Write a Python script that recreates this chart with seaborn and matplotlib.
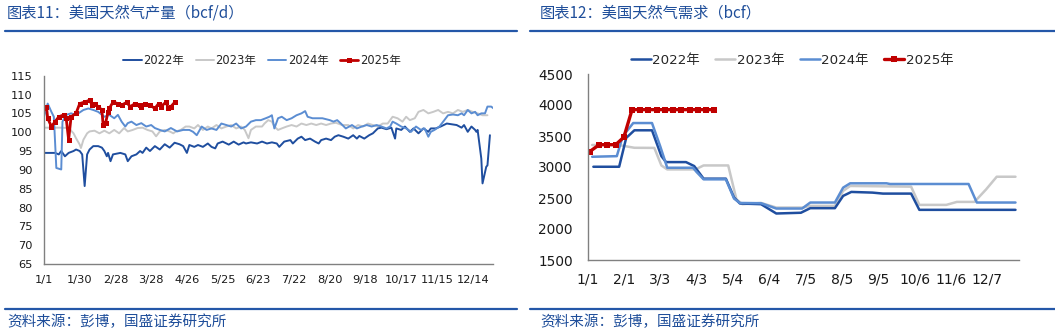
import matplotlib
matplotlib.use("Agg")
import matplotlib.pyplot as plt
import seaborn as sns
import pandas as pd
from matplotlib.lines import Line2D

sns.set_theme(style="white")
plt.rcParams['font.family'] = ['DejaVu Sans', 'Noto Sans CJK SC']
plt.rcParams['axes.unicode_minus'] = False

# ---------------- Left chart: US natural gas production (bcf/d) ----------------
prod_2022_day = [0, 9, 12, 14, 17, 20, 24, 26, 29, 31, 33, 35, 37, 40, 44, 47, 49, 51, 52, 54, 56, 62, 66, 68,
                 71, 75, 78, 80, 83, 86, 90, 94, 98, 102, 106, 110, 113, 116, 118, 122, 125, 129, 133, 136, 139,
                 141, 145, 150, 154, 158, 162, 164, 168, 173, 177, 181, 185, 189, 191, 195, 200, 202, 206, 209,
                 212, 216, 220, 223, 225, 229, 233, 236, 239, 243, 247, 251, 254, 256, 260, 264, 267, 271, 274,
                 278, 282, 285, 286, 290, 293, 297, 300, 304, 308, 312, 314, 318, 322, 327, 331, 335, 339, 341,
                 344, 347, 350, 351, 352, 355, 356, 359, 360, 362]
prod_2022_val = [94.5, 94.5, 94.1, 95.0, 93.6, 94.5, 95.0, 95.4, 95.0, 94.1, 85.7, 94.1, 95.4, 96.3, 96.3, 95.9,
                 95.0, 93.6, 94.5, 92.3, 94.1, 94.5, 94.1, 92.3, 93.6, 94.1, 95.0, 94.5, 95.9, 95.0, 96.3, 95.4,
                 96.8, 95.9, 97.2, 96.8, 96.3, 94.5, 96.6, 96.1, 96.6, 96.1, 97.0, 96.1, 95.7, 97.0, 97.5, 96.7,
                 97.5, 96.7, 97.3, 97.0, 97.3, 97.0, 97.5, 97.0, 97.3, 97.0, 96.1, 97.5, 97.9, 97.0, 98.3, 98.8,
                 97.9, 98.3, 97.5, 97.0, 97.9, 98.3, 97.9, 98.8, 99.2, 98.8, 98.3, 99.2, 98.3, 99.0, 98.3, 99.2,
                 99.7, 101.0, 101.2, 100.8, 101.2, 98.3, 101.0, 100.6, 101.5, 100.1, 101.0, 99.7, 101.0, 100.1,
                 101.0, 101.0, 101.5, 102.3, 102.1, 101.9, 101.2, 101.9, 100.1, 101.5, 100.6, 100.1, 100.6, 93.0,
                 86.4, 90.8, 91.2, 99.2]

prod_2023_day = [0, 13, 20, 24, 26, 29, 30, 32, 35, 37, 41, 45, 49, 53, 57, 61, 65, 68, 72, 76, 80, 84, 88, 91,
                 94, 98, 102, 105, 107, 111, 115, 118, 122, 125, 129, 133, 136, 140, 144, 148, 152, 156, 160,
                 163, 166, 168, 172, 177, 179, 182, 185, 187, 190, 193, 197, 201, 205, 209, 213, 217, 221, 225,
                 229, 233, 237, 242, 247, 251, 255, 259, 263, 267, 271, 275, 279, 283, 287, 291, 294, 297, 301,
                 304, 308, 312, 316, 320, 324, 328, 332, 336, 340, 344, 348, 352, 356, 360]
prod_2023_val = [101.2, 101.2, 101.1, 99.7, 98.4, 96.7, 95.8, 98.0, 99.7, 100.2, 100.4, 99.7, 100.4, 99.7,
                 100.6, 99.7, 101.1, 100.2, 100.6, 101.1, 101.2, 100.6, 100.2, 98.9, 100.2, 100.6, 100.2, 99.7,
                 100.2, 100.6, 101.5, 101.5, 101.0, 101.9, 100.6, 101.5, 101.0, 101.9, 101.0, 101.5, 101.9, 101.0,
                 101.5, 100.6, 98.4, 100.6, 101.5, 101.5, 102.3, 103.2, 102.8, 101.5, 100.6, 101.0, 101.5, 101.9,
                 101.5, 102.3, 101.9, 102.3, 101.9, 102.3, 101.9, 102.3, 102.5, 101.9, 101.9, 101.0, 101.9, 101.5,
                 102.3, 101.9, 101.5, 102.3, 102.3, 104.1, 103.7, 102.8, 104.1, 103.2, 103.7, 105.4, 105.9, 105.0,
                 105.4, 105.9, 105.0, 105.4, 105.0, 105.9, 105.4, 105.9, 105.4, 105.0, 104.5, 104.5]

prod_2024_day = [0, 3, 6, 8, 10, 12, 14, 15, 18, 22, 26, 32, 36, 40, 44, 49, 53, 57, 60, 63, 66, 68, 71, 75, 79,
                 83, 87, 90, 94, 98, 103, 108, 113, 118, 121, 124, 128, 132, 136, 140, 144, 148, 152, 156, 160,
                 164, 168, 172, 176, 180, 183, 185, 187, 190, 193, 197, 201, 205, 209, 212, 214, 218, 222, 226,
                 232, 235, 238, 241, 245, 250, 254, 258, 262, 266, 270, 274, 278, 281, 283, 286, 290, 294, 298,
                 302, 306, 309, 312, 314, 317, 321, 325, 328, 332, 336, 339, 341, 344, 347, 350, 352, 355, 358,
                 360, 363, 365]
prod_2024_val = [104.1, 107.6, 105.4, 104.1, 90.5, 90.3, 90.1, 102.8, 104.6, 105.0, 104.6, 105.9, 106.3, 105.9,
                 105.4, 104.1, 104.6, 103.7, 104.6, 102.8, 101.5, 102.4, 102.8, 101.9, 102.4, 101.5, 101.9, 101.1,
                 100.6, 100.2, 101.1, 100.2, 100.6, 100.6, 100.1, 99.2, 101.5, 100.6, 101.0, 100.6, 102.3, 101.9,
                 101.5, 102.3, 101.0, 101.5, 102.8, 103.2, 103.2, 103.7, 104.1, 104.5, 101.0, 103.7, 104.1, 103.2,
                 103.7, 104.5, 105.0, 105.6, 104.1, 103.7, 103.7, 103.7, 103.2, 102.8, 103.2, 102.3, 101.0, 101.9,
                 101.0, 101.5, 101.9, 101.5, 101.9, 101.5, 101.0, 101.5, 102.8, 102.3, 101.5, 101.0, 100.1, 101.5,
                 100.6, 101.0, 98.8, 100.1, 100.6, 101.5, 103.2, 104.5, 104.7, 104.5, 105.0, 104.5, 105.9, 105.0,
                 105.4, 104.5, 105.0, 105.0, 106.8, 106.8, 106.3]

prod_2025_day = [0, 2, 3, 6, 9, 12, 16, 18, 20, 22, 26, 29, 33, 37, 39, 41, 44, 47, 48, 50, 52, 53, 56, 60, 63,
                 67, 70, 74, 78, 79, 82, 86, 90, 93, 95, 99, 101, 103, 106]
prod_2025_val = [106.3, 106.8, 103.7, 101.5, 102.8, 104.1, 104.6, 103.7, 98.0, 104.1, 105.0, 107.6, 108.0,
                 108.5, 107.2, 107.6, 106.8, 105.9, 101.9, 102.4, 105.4, 106.3, 108.0, 107.6, 107.2, 107.9,
                 106.8, 107.6, 107.2, 106.8, 107.6, 107.2, 106.3, 107.6, 106.8, 108.0, 106.3, 106.8, 107.9]

prod_tick_days = [0, 29, 58, 87, 116, 145, 174, 203, 232, 261, 290, 319, 348]
prod_tick_labels = ['1/1', '1/30', '2/28', '3/28', '4/26', '5/25', '6/23', '7/22', '8/20', '9/18',
                    '10/17', '11/15', '12/14']

# ---------------- Right chart: US natural gas demand (bcf) ----------------
dem_2022_day = [5, 27, 33, 40, 55, 63, 67, 84, 91, 99, 118, 125, 130, 148, 161, 182, 190, 211, 218, 225, 243,
                252, 276, 283, 365]
dem_2022_val = [3004, 3004, 3469, 3592, 3592, 3175, 3079, 3079, 3015, 2812, 2812, 2507, 2411, 2400, 2250,
                2262, 2336, 2336, 2534, 2598, 2587, 2571, 2571, 2309, 2309]

dem_2023_day = [4, 26, 31, 40, 57, 63, 68, 92, 99, 120, 127, 132, 148, 161, 184, 190, 211, 218, 224, 276, 283,
                306, 315, 330, 340, 349, 365]
dem_2023_val = [3355, 3355, 3340, 3310, 3308, 3025, 2961, 2961, 3025, 3025, 2480, 2400, 2420, 2346, 2346, 2373,
                2373, 2614, 2694, 2683, 2389, 2389, 2437, 2437, 2640, 2843, 2843]

dem_2024_day = [4, 25, 30, 39, 55, 62, 68, 90, 93, 99, 118, 125, 130, 148, 161, 183, 190, 211, 218, 224, 255,
                258, 325, 332, 365]
dem_2024_val = [3165, 3175, 3495, 3709, 3709, 3335, 2988, 2988, 2920, 2801, 2801, 2490, 2420, 2416, 2330, 2330,
                2427, 2427, 2667, 2737, 2737, 2726, 2726, 2427, 2427]

dem_2025_day = [2, 10, 17, 24, 31, 38, 45, 52, 59, 66, 73, 80, 87, 94, 101, 108]
dem_2025_val = [3250, 3360, 3360, 3360, 3480, 3925, 3925, 3925, 3925, 3925, 3925, 3925, 3925, 3925, 3925, 3925]

dem_tick_days = [0, 31, 62, 93, 124, 155, 186, 217, 248, 279, 310, 341]
dem_tick_labels = ['1/1', '2/1', '3/3', '4/3', '5/4', '6/4', '7/5', '8/5', '9/5', '10/6', '11/6', '12/7']

series_names = ['2022年', '2023年', '2024年', '2025年']
colors = ['#1F4E9F', '#C8C8C8', '#5B8DD2', '#C00000']

TITLE_BLUE = '#1F4E9A'
LINE_BLUE = '#2457A8'
cjk = ['Noto Sans CJK SC', 'DejaVu Sans']

fig = plt.figure(figsize=(10.55, 3.34), dpi=100)
W, H = 1055, 334


def fx(px):
    return px / W


def fy(py):
    return 1 - py / H


axL = fig.add_axes([fx(44), fy(264), fx(493) - fx(44), fy(75.7) - fy(264)])
axR = fig.add_axes([fx(587.5), fy(260), fx(1019) - fx(587.5), fy(74) - fy(260)])

left_data = [(prod_2022_day, prod_2022_val), (prod_2023_day, prod_2023_val),
             (prod_2024_day, prod_2024_val), (prod_2025_day, prod_2025_val)]
right_data = [(dem_2022_day, dem_2022_val), (dem_2023_day, dem_2023_val),
              (dem_2024_day, dem_2024_val), (dem_2025_day, dem_2025_val)]

order = [1, 0, 2, 3]  # draw grey beneath blues
for ax, data, lw, ms in [(axL, left_data, 1.4, 3.6), (axR, right_data, 1.8, 4.2)]:
    for i in order:
        d, v = data[i]
        df = pd.DataFrame({'day': d, 'value': v})
        kw = dict(marker='s', markersize=ms, markeredgewidth=0) if i == 3 else {}
        sns.lineplot(data=df, x='day', y='value', ax=ax, color=colors[i],
                     linewidth=(lw + 0.6 if i == 3 else lw), label=series_names[i], **kw)
    for s in ['top', 'right']:
        ax.spines[s].set_visible(False)
    for s in ['left', 'bottom']:
        ax.spines[s].set_color('#808080')
        ax.spines[s].set_linewidth(1.0)
    ax.set_xlabel('')
    ax.set_ylabel('')
    ax.grid(False)
    ax.legend_.remove()

# Left axes formatting
axL.set_xlim(0, 364.5)
axL.set_ylim(65, 115)
axL.set_yticks(list(range(65, 116, 5)))
axL.set_xticks(prod_tick_days)
axL.set_xticklabels(prod_tick_labels)
axL.set_xticks(list(range(0, 366, 15)), minor=True)
axL.tick_params(axis='x', which='major', length=0, labelsize=8.2, pad=8, colors='#1a1a1a')
axL.tick_params(axis='x', which='minor', direction='in', length=3, width=0.8, color='#808080')
axL.tick_params(axis='y', which='major', direction='out', length=3, width=0.8, color='#808080',
                labelsize=8.2, pad=5, labelcolor='#1a1a1a')

# Right axes formatting
axR.set_xlim(0, 368)
axR.set_ylim(1500, 4500)
axR.set_yticks(list(range(1500, 4501, 500)))
axR.set_xticks(dem_tick_days)
axR.set_xticklabels(dem_tick_labels)
axR.set_xticks([k * 15.2 for k in range(25)], minor=True)
axR.tick_params(axis='x', which='major', length=0, labelsize=10, pad=9, colors='#1a1a1a')
axR.tick_params(axis='x', which='minor', direction='in', length=3.2, width=0.8, color='#808080')
axR.tick_params(axis='y', which='major', direction='out', length=3.5, width=0.8, color='#808080',
                labelsize=9.8, pad=7, labelcolor='#1a1a1a')

# Legends
for ax, cx, fs, hl, cs in [(axL, fx(262), 8.3, 1.6, 1.0), (axR, fx(792), 9.6, 1.5, 1.15)]:
    hs, ls = ax.get_legend_handles_labels()
    idx = [ls.index(n) for n in series_names]
    fig.legend([hs[i] for i in idx], [ls[i] for i in idx], loc='center',
               bbox_to_anchor=(cx, fy(60.5)), ncol=4, frameon=False, fontsize=fs,
               handlelength=hl, handletextpad=0.12, columnspacing=cs, borderpad=0)

# Header / footer lines
for x0, x1 in [(5, 517), (530, 1055)]:
    for yy in (31, 309):
        fig.add_artist(Line2D([fx(x0), fx(x1)], [fy(yy), fy(yy)], color=LINE_BLUE, linewidth=1.6,
                              transform=fig.transFigure))

# Titles and sources
fig.text(fx(7), fy(13.5), '图表11：美国天然气产量（bcf/d）', family=cjk, fontsize=11, color=TITLE_BLUE,
         va='center', ha='left', style='italic')
fig.text(fx(540), fy(13.5), '图表12：美国天然气需求（bcf）', family=cjk, fontsize=11, color=TITLE_BLUE,
         va='center', ha='left', style='italic')
fig.text(fx(7), fy(321.5), '资料来源：彭博，国盛证券研究所', family=cjk, fontsize=10.5, color=TITLE_BLUE,
         va='center', ha='left', style='italic')
fig.text(fx(540), fy(321.5), '资料来源：彭博，国盛证券研究所', family=cjk, fontsize=10.5, color=TITLE_BLUE,
         va='center', ha='left', style='italic')

fig.savefig('out.png', dpi=100)
